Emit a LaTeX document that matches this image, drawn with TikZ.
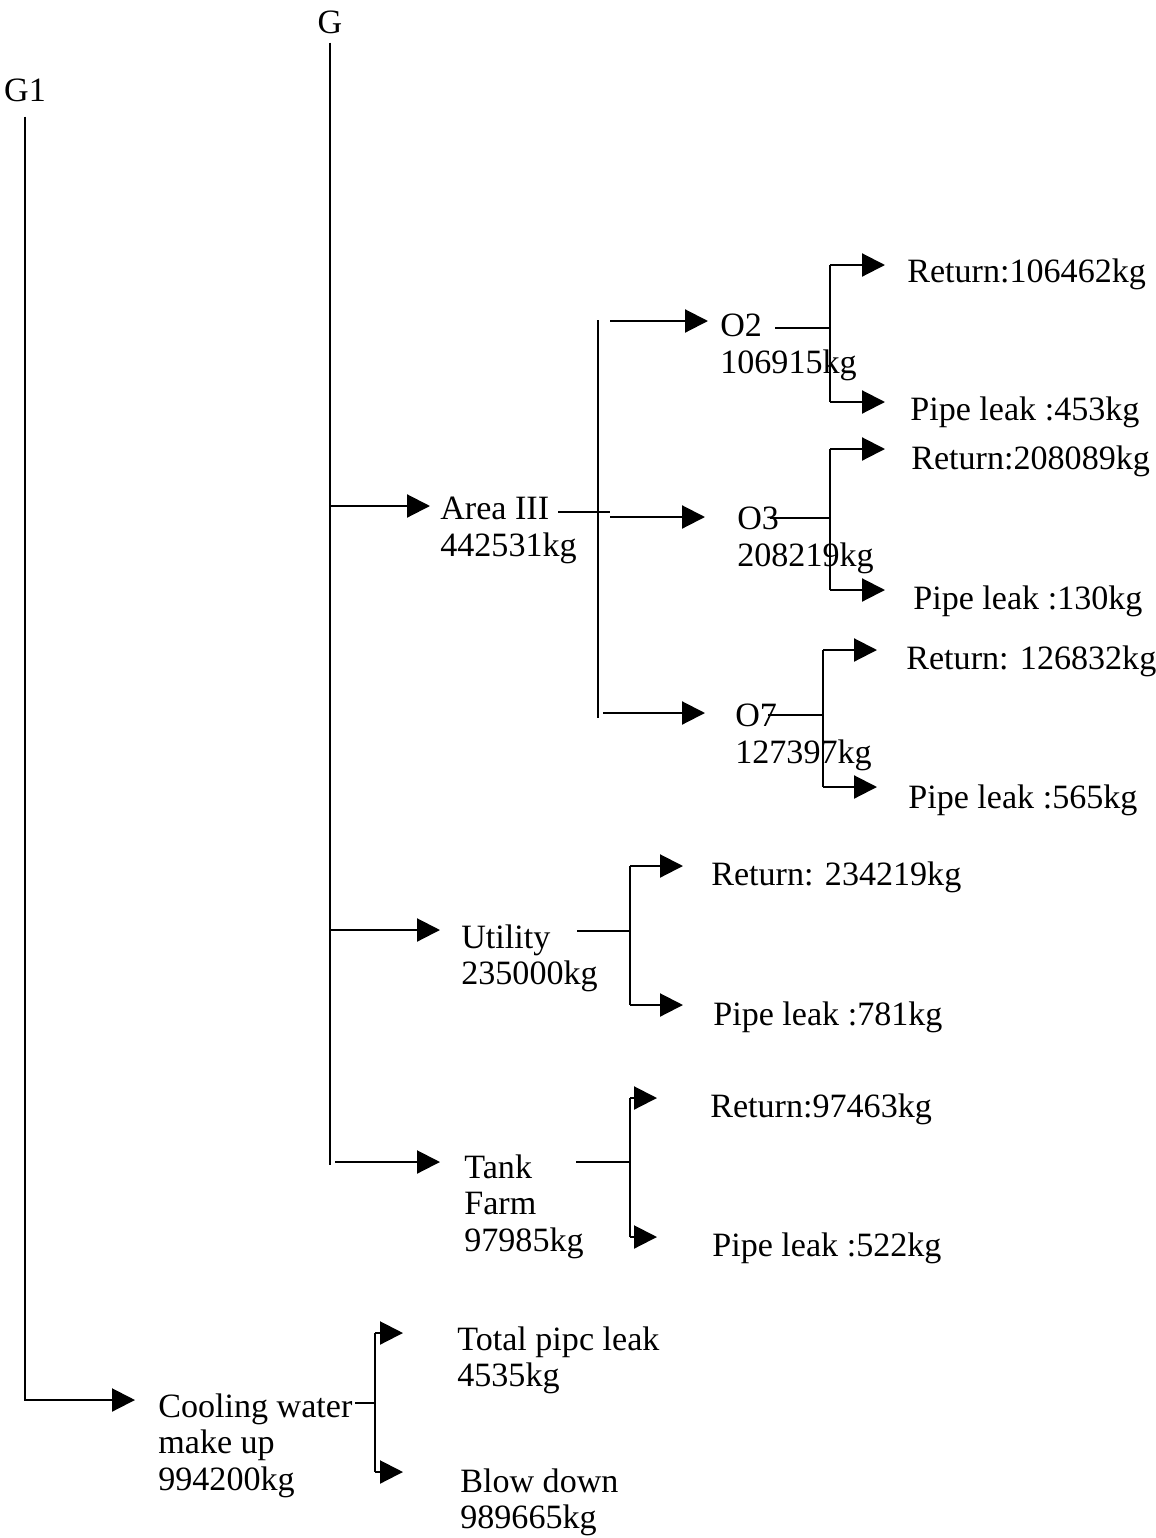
\documentclass[tikz,border=0pt]{standalone}
\usepackage{fontspec}
\setmainfont{Liberation Serif}
\usetikzlibrary{arrows.meta}

\begin{document}
\begin{tikzpicture}[
    x=0.02cm, y=-0.02cm,
    % --- STYLES ---
    txt/.style={
        anchor=north west, align=left,
        inner sep=0pt,
        font=\fontsize{19.4}{21}\selectfont
    },
    head/.style={anchor=base, inner sep=0pt, font=\fontsize{19.4}{21}\selectfont},
    pipe/.style={line width=1.2pt},
    flow/.style={pipe, -{Triangle[length=0.46cm, width=0.46cm]}},
    tipgap/.style={shorten >=#1*0.02cm}
]
\useasboundingbox (0,0) rectangle (1156,1538);

% ===== 1. HEADERS =====
\node[head] (g) at (330,33) {G};
\node[head] (g1) at (25,101) {G1};

% ===== 2. UNITS =====
\node[txt] (area) at (440,497) {Area III\\442531kg};
\node[txt] (util) at (461,924) {Utility\\235000kg};
\node[txt] (tank) at (464,1154) {Tank\\Farm\\97985kg};
\node[txt] (cool) at (158,1393) {Cooling water\\make up\\994200kg};

\node[txt] (o2) at (720,314) {O2\\106915kg};
\node[txt] (o3) at (737,507) {O3\\208219kg};
\node[txt] (o7) at (735,704) {O7\\127397kg};

% ===== 3. RETURNS & LEAKS =====
\node[txt] (o2ret) at (907,258) {Return:106462kg};
\node[txt] (o2leak) at (910,396) {Pipe leak :453kg};
\node[txt] (o3ret) at (911,445) {Return:208089kg};
\node[txt] (o3leak) at (913,585) {Pipe leak :130kg};
\node[txt] (o7ret) at (906,645) {Return: 126832kg};
\node[txt] (o7leak) at (908,784) {Pipe leak :565kg};
\node[txt] (utilret) at (711,861) {Return: 234219kg};
\node[txt] (utilleak) at (713,1001) {Pipe leak :781kg};
\node[txt] (tankret) at (710,1093) {Return:97463kg};
\node[txt] (tankleak) at (712,1232) {Pipe leak :522kg};
\node[txt] (leak) at (457,1326) {Total pipc leak\\4535kg};
\node[txt] (blow) at (460,1468) {Blow down\\989665kg};

% ===== 4. JUNCTIONS =====
\coordinate (g-end) at (330,1165);
\coordinate (g-area) at (330,506);
\coordinate (g-util) at (330,930);
\coordinate (g-tank) at (335,1162);
\coordinate (g1-end) at (25,1400);

\coordinate (a-top) at (598,320);
\coordinate (a-bot) at (598,718);
\coordinate (a-out) at (558,512);
\coordinate (a-cross) at (610,512);
\coordinate (a-o2) at (610,321);
\coordinate (a-o3) at (610,517);
\coordinate (a-o7) at (603,713);

\coordinate (o2-top) at (830,265);
\coordinate (o2-bot) at (830,402);
\coordinate (o2-out) at (775,328);
\coordinate (o2-j) at (830,328);

\coordinate (o3-top) at (830,449);
\coordinate (o3-bot) at (830,590);
\coordinate (o3-out) at (770,518);
\coordinate (o3-j) at (830,518);

\coordinate (o7-top) at (823,650);
\coordinate (o7-bot) at (823,787);
\coordinate (o7-out) at (768,715);
\coordinate (o7-j) at (823,715);

\coordinate (u-top) at (630,866);
\coordinate (u-bot) at (630,1005);
\coordinate (u-out) at (577,931);
\coordinate (u-j) at (630,931);

\coordinate (t-top) at (630,1098);
\coordinate (t-bot) at (630,1237);
\coordinate (t-out) at (576,1162);
\coordinate (t-j) at (630,1162);

\coordinate (c-top) at (375,1333);
\coordinate (c-bot) at (375,1472);
\coordinate (c-out) at (355,1403);
\coordinate (c-j) at (375,1403);

% ===== 5. CONNECTIONS =====

% -- main lines --
\draw[pipe, shorten <=9*0.02cm] (g) -- (g-end);
\draw[flow, tipgap=23, shorten <=15*0.02cm] (g1) -- (g1-end) -- (cool.west |- g1-end);

\draw[flow, tipgap=10] (g-area) -- (area.west |- g-area);
\draw[flow, tipgap=21] (g-util) -- (util.west |- g-util);
\draw[flow, tipgap=24] (g-tank) -- (tank.west |- g-tank);

% -- Area III --
\draw[pipe] (a-top) -- (a-bot);
\draw[pipe] (a-out) -- (a-cross);
\draw[flow, tipgap=12] (a-o2) -- (o2.west |- a-o2);
\draw[flow, tipgap=32] (a-o3) -- (o3.west |- a-o3);
\draw[flow, tipgap=30] (a-o7) -- (o7.west |- a-o7);

% -- O2 --
\draw[pipe] (o2-top) -- (o2-bot);
\draw[pipe] (o2-out) -- (o2-j);
\draw[flow, tipgap=22] (o2-top) -- (o2ret.west |- o2-top);
\draw[flow, tipgap=25] (o2-bot) -- (o2leak.west |- o2-bot);

% -- O3 --
\draw[pipe] (o3-top) -- (o3-bot);
\draw[pipe] (o3-out) -- (o3-j);
\draw[flow, tipgap=26] (o3-top) -- (o3ret.west |- o3-top);
\draw[flow, tipgap=28] (o3-bot) -- (o3leak.west |- o3-bot);

% -- O7 --
\draw[pipe] (o7-top) -- (o7-bot);
\draw[pipe] (o7-out) -- (o7-j);
\draw[flow, tipgap=29] (o7-top) -- (o7ret.west |- o7-top);
\draw[flow, tipgap=31] (o7-bot) -- (o7leak.west |- o7-bot);

% -- Utility --
\draw[pipe] (u-top) -- (u-bot);
\draw[pipe] (u-out) -- (u-j);
\draw[flow, tipgap=28] (u-top) -- (utilret.west |- u-top);
\draw[flow, tipgap=30] (u-bot) -- (utilleak.west |- u-bot);

% -- Tank Farm --
\draw[pipe] (t-top) -- (t-bot);
\draw[pipe] (t-out) -- (t-j);
\draw[flow, tipgap=53] (t-top) -- (tankret.west |- t-top);
\draw[flow, tipgap=55] (t-bot) -- (tankleak.west |- t-bot);

% -- Cooling water make up --
\draw[pipe] (c-top) -- (c-bot);
\draw[pipe] (c-out) -- (c-j);
\draw[flow, tipgap=54] (c-top) -- (leak.west |- c-top);
\draw[flow, tipgap=57] (c-bot) -- (blow.west |- c-bot);

\end{tikzpicture}
\end{document}
